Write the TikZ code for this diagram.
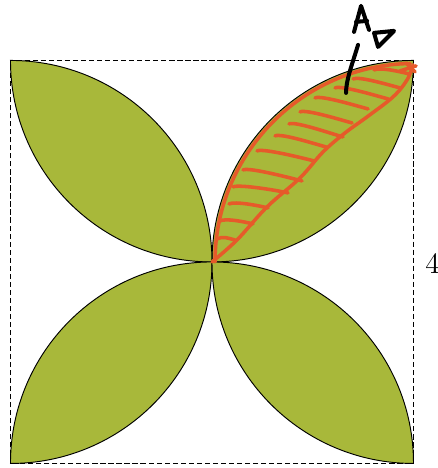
\documentclass[tikz,border=0pt]{standalone}
\usetikzlibrary{calc}
\definecolor{leafGreen}{HTML}{A8B83A}
\definecolor{markOrange}{HTML}{E65A2A}
\tikzset{
  leafFill/.style={
    fill=leafGreen,
    draw=black,
    line width=0.4pt
  },
  frameLine/.style={
    dash pattern=on 2.2pt off 1.2pt,
    line width=0.5pt
  },
  hatchStroke/.style={
    markOrange,
    line width=1.5pt,
    line cap=round,
    line join=round
  },
  penStroke/.style={
    black,
    line width=1.7pt,
    line cap=round,
    line join=round
  }
}

\begin{document}
\begin{tikzpicture}[x=1.5cm, y=1.5cm]
\def\R{2}            % quarter circle radius (half the side)
\def\px{0.014888cm}  % one pixel of the hand sketch

\useasboundingbox (-2.104,-2.045) rectangle (2.243,2.600);

\coordinate (O) at (0,0);

% Four leaves, one in each quadrant
\foreach \sx/\sy in {1/1,-1/1,-1/-1,1/-1}{
  \begin{scope}[xscale=\sx, yscale=\sy]
    \draw[leafFill] (O) arc[start angle=180, end angle=90, radius=\R]
      arc[start angle=0, end angle=-90, radius=\R] -- cycle;
  \end{scope}
}

% Dashed square
\draw[frameLine] (-\R,-\R) rectangle (\R,\R);

% Side length
\node[font=\fontsize{12.5}{14}\selectfont] (side) at (2.19,-0.02) {4};

% Orange outline along the upper edge of the top right leaf
\draw[hatchStroke] (0.03,0) arc[start angle=180, end angle=91, radius=1.97];

% Hand marks (sketch pixel coordinates, y pointing down)
\begin{scope}[x=\px, y=-\px, shift={(-212,-262)}]
  % inner dividing line
  \draw[hatchStroke] plot[smooth, tension=0.6] coordinates {
    (212,262) (237,240) (267,207) (300,178) (323,152)
    (345,133) (367,117) (393,97) (407,80) (413,65)};

  % hatching
  \foreach \xa/\ya/\xb/\yb in {217/239/235/240, 220/221/253/224,
      229/204/268/208, 233/187/288/193, 243/170/302/181,
      257/151/314/161, 275/136/326/147, 289/124/343/137,
      300/112/352/123, 315/98/368/109, 335/88/388/99,
      353/79/400/88, 374/70/409/74}{
    \draw[hatchStroke] (\xa,\ya) .. controls +(6,-3) and +(-8,-2) .. (\xb,\yb);
  }
  \draw[hatchStroke] (400,71) -- (416,66);
  \draw[hatchStroke] (406,63) -- (415,72);

  % letter A with pointer
  \draw[penStroke] (354,32) -- (361,6) -- (369,30);
  \draw[penStroke] (356,22) -- (367,21);
  \draw[penStroke] (374,33) -- (394,31) -- (378,47) -- cycle;
  \draw[penStroke] (358,45) .. controls (352,65) and (346,80) .. (346,93);
\end{scope}

\end{tikzpicture}
\end{document}
